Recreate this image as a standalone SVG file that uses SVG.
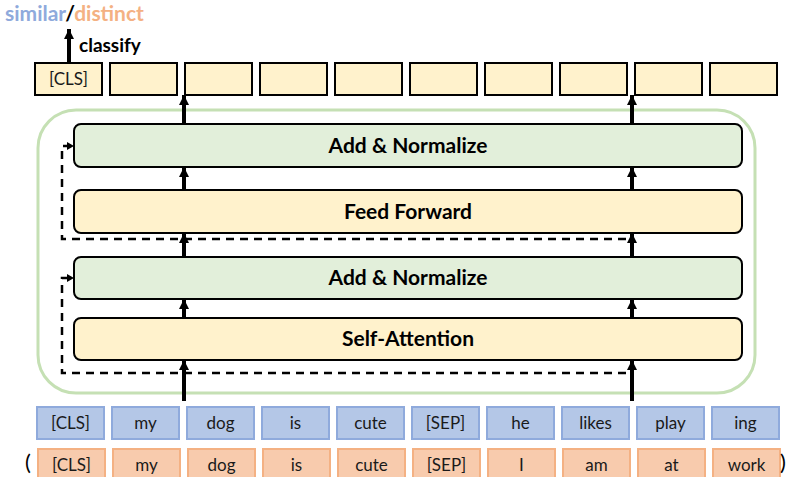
<svg xmlns="http://www.w3.org/2000/svg" width="788" height="477" viewBox="0 0 788 477">
<style>
text{font-family:Lato,"Open Sans","Liberation Sans",sans-serif;text-anchor:middle}
.lbl{font-size:21px;font-weight:bold;fill:#000}
.tok{font-size:17px;fill:#1a1a1a}
.par{font-size:22px;fill:#000}
.out{fill:#FFF2CC;stroke:#000;stroke-width:2}
.blue{fill:#B4C7E7;stroke:#8FAADC;stroke-width:2}
.org{fill:#F8CBAD;stroke:#F4B183;stroke-width:2}
.layerY{fill:#FFF2CC;stroke:#000;stroke-width:2}
.layerG{fill:#E2EFDA;stroke:#000;stroke-width:2}
.thick{stroke:#000;stroke-width:4;fill:none}
.dash{stroke:#000;stroke-width:2.5;fill:none;stroke-dasharray:8 6}
</style>
<defs>
<marker id="ah" markerUnits="userSpaceOnUse" markerWidth="12" markerHeight="10" refX="10" refY="5" orient="auto">
<path d="M0,0 L10,5 L0,10 z" fill="#000"/>
</marker>
<marker id="ahs" markerUnits="userSpaceOnUse" markerWidth="8" markerHeight="8" refX="7" refY="4" orient="auto">
<path d="M0,0 L7,4 L0,8 z" fill="#000"/>
</marker>
</defs>

<text x="5" y="21" style="font-size:21px;font-weight:bold;text-anchor:start"><tspan fill="#8FAADC">similar</tspan><tspan fill="#000">/</tspan><tspan fill="#F4B183">distinct</tspan></text>
<text x="79" y="52" style="font-size:19px;font-weight:bold;text-anchor:start">classify</text>

<rect id="encoder" x="38" y="110" width="717" height="283" rx="38" fill="none" stroke="#C5E0B4" stroke-width="3"/>

<g id="outputs">
<rect class="out" x="35" y="63" width="67" height="32"/><text class="tok" x="68.5" y="85">[CLS]</text>
<rect class="out" x="110" y="63" width="67" height="32"/>
<rect class="out" x="185" y="63" width="67" height="32"/>
<rect class="out" x="260" y="63" width="67" height="32"/>
<rect class="out" x="335" y="63" width="67" height="32"/>
<rect class="out" x="410" y="63" width="67" height="32"/>
<rect class="out" x="485" y="63" width="67" height="32"/>
<rect class="out" x="560" y="63" width="67" height="32"/>
<rect class="out" x="635" y="63" width="67" height="32"/>
<rect class="out" x="710" y="63" width="67" height="32"/>
</g>

<g id="addnorm1"><rect class="layerG" x="74" y="124" width="668" height="43" rx="7"/><text class="lbl" x="408" y="153">Add &amp; Normalize</text></g>
<g id="feedforward"><rect class="layerY" x="74" y="190" width="668" height="43" rx="7"/><text class="lbl" x="408" y="219">Feed Forward</text></g>
<g id="addnorm2"><rect class="layerG" x="74" y="257" width="668" height="42" rx="7"/><text class="lbl" x="408" y="285">Add &amp; Normalize</text></g>
<g id="selfattention"><rect class="layerY" x="74" y="318" width="668" height="42" rx="7"/><text class="lbl" x="408" y="346">Self-Attention</text></g>

<g id="inputsA">
<rect class="blue" x="37" y="407" width="67" height="32"/><text class="tok" x="70.5" y="429">[CLS]</text>
<rect class="blue" x="112" y="407" width="67" height="32"/><text class="tok" x="145.5" y="429">my</text>
<rect class="blue" x="187" y="407" width="67" height="32"/><text class="tok" x="220.5" y="429">dog</text>
<rect class="blue" x="262" y="407" width="67" height="32"/><text class="tok" x="295.5" y="429">is</text>
<rect class="blue" x="337" y="407" width="67" height="32"/><text class="tok" x="370.5" y="429">cute</text>
<rect class="blue" x="412" y="407" width="67" height="32"/><text class="tok" x="445.5" y="429">[SEP]</text>
<rect class="blue" x="487" y="407" width="67" height="32"/><text class="tok" x="520.5" y="429">he</text>
<rect class="blue" x="562" y="407" width="67" height="32"/><text class="tok" x="595.5" y="429">likes</text>
<rect class="blue" x="637" y="407" width="67" height="32"/><text class="tok" x="670.5" y="429">play</text>
<rect class="blue" x="712" y="407" width="67" height="32"/><text class="tok" x="745.5" y="429">ing</text>
</g>

<g id="inputsB">
<text class="par" x="28" y="470">(</text>
<rect class="org" x="38" y="449" width="67" height="32"/><text class="tok" x="71.5" y="471">[CLS]</text>
<rect class="org" x="113" y="449" width="67" height="32"/><text class="tok" x="146.5" y="471">my</text>
<rect class="org" x="188" y="449" width="67" height="32"/><text class="tok" x="221.5" y="471">dog</text>
<rect class="org" x="263" y="449" width="67" height="32"/><text class="tok" x="296.5" y="471">is</text>
<rect class="org" x="338" y="449" width="67" height="32"/><text class="tok" x="371.5" y="471">cute</text>
<rect class="org" x="413" y="449" width="67" height="32"/><text class="tok" x="446.5" y="471">[SEP]</text>
<rect class="org" x="488" y="449" width="67" height="32"/><text class="tok" x="521.5" y="471">I</text>
<rect class="org" x="563" y="449" width="67" height="32"/><text class="tok" x="596.5" y="471">am</text>
<rect class="org" x="638" y="449" width="67" height="32"/><text class="tok" x="671.5" y="471">at</text>
<rect class="org" x="713" y="449" width="67" height="32"/><text class="tok" x="746.5" y="471">work</text>
<text class="par" x="783" y="470">)</text>
</g>

<g id="connectors">
<line class="thick" x1="69" y1="63" x2="69" y2="29" marker-end="url(#ah)"/>
<line class="thick" x1="184" y1="401" x2="184" y2="360" marker-end="url(#ah)"/>
<line class="thick" x1="632" y1="401" x2="632" y2="360" marker-end="url(#ah)"/>
<line class="thick" x1="184" y1="318" x2="184" y2="299" marker-end="url(#ah)"/>
<line class="thick" x1="632" y1="318" x2="632" y2="299" marker-end="url(#ah)"/>
<line class="thick" x1="184" y1="257" x2="184" y2="233" marker-end="url(#ah)"/>
<line class="thick" x1="632" y1="257" x2="632" y2="233" marker-end="url(#ah)"/>
<line class="thick" x1="184" y1="190" x2="184" y2="167" marker-end="url(#ah)"/>
<line class="thick" x1="632" y1="190" x2="632" y2="167" marker-end="url(#ah)"/>
<line class="thick" x1="184" y1="124" x2="184" y2="95" marker-end="url(#ah)"/>
<line class="thick" x1="632" y1="124" x2="632" y2="95" marker-end="url(#ah)"/>
<path class="dash" d="M626,373 H62 V278 H74" marker-end="url(#ahs)"/>
<path class="dash" d="M626,239 H62 V146 H74" marker-end="url(#ahs)"/>
</g>
</svg>
